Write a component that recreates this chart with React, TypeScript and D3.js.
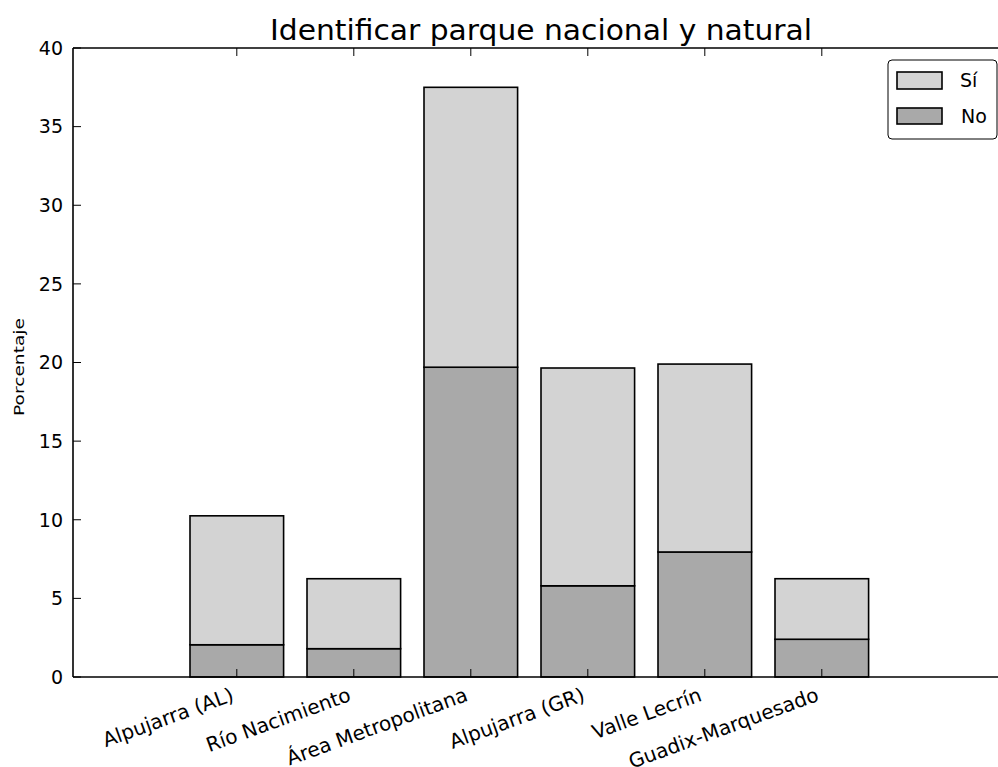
import { scaleLinear } from 'd3';

const categories = [
  'Alpujarra (AL)',
  'Río Nacimiento',
  'Área Metropolitana',
  'Alpujarra (GR)',
  'Valle Lecrín',
  'Guadix-Marquesado',
];
const noValues = [2.05, 1.8, 19.7, 5.8, 7.95, 2.4];
const siValues = [8.2, 4.45, 17.8, 13.85, 11.95, 3.85];
const yTicks = [0, 5, 10, 15, 20, 25, 30, 35, 40];

const WIDTH = 998;
const HEIGHT = 767;
const PLOT = { left: 73, top: 48, right: 1009, bottom: 677 };
const SI_COLOR = '#d3d3d3';
const NO_COLOR = '#a9a9a9';
const FONT = 'DejaVu Sans, sans-serif';

export default function App() {
  const x = scaleLinear().domain([-1, 7]).range([PLOT.left, PLOT.right]);
  const y = scaleLinear().domain([0, 40]).range([PLOT.bottom, PLOT.top]);
  const barWidth = 0.8;

  return (
    <div style={{ position: 'fixed', left: 0, top: 0 }}>
      <svg width={WIDTH} height={HEIGHT} style={{ display: 'block', background: '#fff' }} fontFamily={FONT}>
        <text
          x={(PLOT.left + PLOT.right) / 2}
          y={40}
          textAnchor="middle"
          fontSize={28}
          textLength={542}
          lengthAdjust="spacingAndGlyphs"
          fill="#000"
        >
          Identificar parque nacional y natural
        </text>

        {categories.map((name, i) => {
          const x0 = x(i);
          const w = x(i + barWidth) - x0;
          const no = noValues[i];
          const total = no + siValues[i];
          return (
            <g key={name} stroke="#000" strokeWidth={1.6}>
              <rect x={x0} y={y(no)} width={w} height={y(0) - y(no)} fill={NO_COLOR} />
              <rect x={x0} y={y(total)} width={w} height={y(no) - y(total)} fill={SI_COLOR} />
            </g>
          );
        })}

        {/* frame */}
        <g stroke="#000" strokeWidth={1.6}>
          <line x1={PLOT.left} x2={PLOT.right} y1={PLOT.top} y2={PLOT.top} />
          <line x1={PLOT.left} x2={PLOT.right} y1={PLOT.bottom} y2={PLOT.bottom} />
          <line x1={PLOT.left} x2={PLOT.left} y1={PLOT.top} y2={PLOT.bottom} />
          <line x1={PLOT.right} x2={PLOT.right} y1={PLOT.top} y2={PLOT.bottom} />
        </g>

        {yTicks.map((t) => (
          <g key={t}>
            <line x1={PLOT.left} x2={PLOT.left + 8} y1={y(t)} y2={y(t)} stroke="#000" strokeWidth={1} />
            <line x1={PLOT.right - 8} x2={PLOT.right} y1={y(t)} y2={y(t)} stroke="#000" strokeWidth={1} />
            <text x={PLOT.left - 10} y={y(t)} dy="0.36em" textAnchor="end" fontSize={19} fill="#000">
              {t}
            </text>
          </g>
        ))}

        {categories.map((name, i) => {
          const cx = x(i + barWidth / 2);
          return (
            <g key={`tick-${name}`}>
              <line x1={cx} x2={cx} y1={PLOT.bottom} y2={PLOT.bottom - 8} stroke="#000" strokeWidth={1} />
              <line x1={cx} x2={cx} y1={PLOT.top} y2={PLOT.top + 8} stroke="#000" strokeWidth={1} />
              <text
                transform={`translate(${cx - 7}, ${PLOT.bottom + 9}) rotate(-20)`}
                textAnchor="end"
                dominantBaseline="hanging"
                fontSize={20}
                fill="#000"
              >
                {name}
              </text>
            </g>
          );
        })}

        <text
          transform={`translate(24, 367) rotate(-90)`}
          textAnchor="middle"
          fontSize={14}
          textLength={98}
          lengthAdjust="spacingAndGlyphs"
          fill="#000"
        >
          Porcentaje
        </text>

        {/* legend */}
        <g>
          <rect x={888} y={60} width={109} height={79} rx={4} fill="#fff" stroke="#000" strokeWidth={1} />
          <rect x={897} y={72} width={45} height={17} fill={SI_COLOR} stroke="#000" strokeWidth={1.6} />
          <rect x={897} y={108} width={45} height={16} fill={NO_COLOR} stroke="#000" strokeWidth={1.6} />
          <text x={960} y={87} fontSize={19} fill="#000">Sí</text>
          <text x={961} y={123} fontSize={19} fill="#000">No</text>
        </g>
      </svg>
    </div>
  );
}
